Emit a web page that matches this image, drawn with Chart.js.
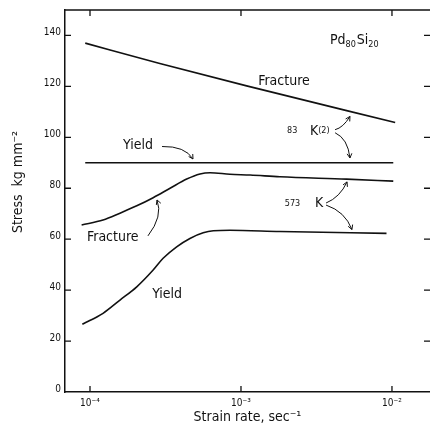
<!DOCTYPE html>
<html><head><meta charset="utf-8">
<script src="https://cdn.jsdelivr.net/npm/chart.js@4"></script>
<style>html,body{margin:0;padding:0;background:#fff}#wrap{width:430px;height:428px;position:relative}</style>
</head><body><div id="wrap"><canvas id="c"></canvas></div>
<script>
// ---------- data ----------
const xTicks = [1e-4, 1e-3, 1e-2];
const xTickLabels = ['10\u207B\u2074', '10\u207B\u00B3', '10\u207B\u00B2'];
const yTicks = [0, 20, 40, 60, 80, 100, 120, 140];
const yTickLabels = ['0', '20', '40', '60', '80', '100', '120', '140'];

const fracture83Rate   = [9.3e-5, 2.9e-4, 1.09e-3, 1.05e-2];
const fracture83Stress = [137, 129, 120.2, 105.8];

const yield83Rate   = [9.3e-5, 1.02e-2];
const yield83Stress = [90, 90];

const fracture573Rate   = [8.8e-5, 1.22e-4, 1.58e-4, 2.04e-4, 2.62e-4, 3.39e-4, 4.37e-4, 5.35e-4, 6.24e-4, 8.45e-4, 1.15e-3, 1.81e-3, 5.0e-3, 1.02e-2];
const fracture573Stress = [65.6, 67.5, 70.2, 73.1, 76.3, 80.0, 83.6, 85.6, 86.1, 85.5, 85.2, 84.5, 83.6, 82.8];

const yield573Rate   = [8.9e-5, 1.22e-4, 1.58e-4, 2.04e-4, 2.62e-4, 3.05e-4, 3.75e-4, 4.59e-4, 5.62e-4, 6.56e-4, 8.45e-4, 1.81e-3, 9.2e-3];
const yield573Stress = [26.6, 30.9, 36.1, 41.3, 47.9, 52.5, 57.0, 60.3, 62.5, 63.3, 63.5, 63.0, 62.3];

// ---------- annotations (data coordinates) ----------
const FONT = '"DejaVu Sans Condensed","DejaVu Sans",sans-serif';
const labels = [
  {x: 3.88e-3, y: 138.2, parts: [{t:'Pd', s:14}, {t:'80', s:9, dy:5}, {t:'Si', s:14}, {t:'20', s:9, dy:5}]},
  {x: 1.30e-3, y: 122.1, parts: [{t:'Fracture', s:14}]},
  {x: 2.02e-3, y: 102.5, parts: [{t:'83', s:9}]},
  {x: 2.86e-3, y: 102.5, parts: [{t:'K', s:14}, {t:'(2)', s:9}]},
  {x: 1.656e-4, y: 97.0, parts: [{t:'Yield', s:14}]},
  {x: 1.95e-3, y: 73.9, parts: [{t:'573', s:9}]},
  {x: 3.09e-3, y: 73.9, parts: [{t:'K', s:14}]},
  {x: 9.55e-5, y: 60.9, parts: [{t:'Fracture', s:14}]},
  {x: 2.58e-4, y: 38.5, parts: [{t:'Yield', s:14}]}
];
const arrows = [
  {from:[4.20e-3, 103.0], ctrl:[4.75e-3, 103.8], to:[5.27e-3, 108.2]},
  {from:[4.20e-3, 101.8], ctrl:[5.10e-3, 99.5], to:[5.27e-3, 91.9]},
  {from:[3.00e-4, 96.4], ctrl:[4.26e-4, 96.6], to:[4.81e-4, 91.5]},
  {from:[3.66e-3, 74.2], ctrl:[4.53e-3, 76.5], to:[5.04e-3, 82.5]},
  {from:[3.66e-3, 73.4], ctrl:[4.89e-3, 70.9], to:[5.43e-3, 63.8]},
  {from:[2.42e-4, 61.3], ctrl:[3.05e-4, 69.0], to:[2.78e-4, 75.4]}
];

function pts(xs, ys){ return xs.map((x,i)=>({x:x, y:ys[i]})); }
function ds(xs, ys){
  return {data: pts(xs, ys), borderColor:'#111', borderWidth:1.6, pointRadius:0,
          fill:false, cubicInterpolationMode:'monotone'};
}

const decor = {
  id:'decor',
  afterDraw(chart){
    const ctx = chart.ctx, xs = chart.scales.x, ys = chart.scales.y, a = chart.chartArea;
    ctx.save();
    ctx.strokeStyle = '#111'; ctx.lineWidth = 1.5;
    // top border
    ctx.beginPath(); ctx.moveTo(a.left, a.top); ctx.lineTo(a.right, a.top); ctx.stroke();
    ctx.lineWidth = 1.3;
    ctx.beginPath();
    xTicks.forEach(v=>{
      const px = xs.getPixelForValue(v);
      ctx.moveTo(px, a.bottom); ctx.lineTo(px, a.bottom-6);
      ctx.moveTo(px, a.top); ctx.lineTo(px, a.top+6);
    });
    yTicks.forEach(v=>{
      const py = ys.getPixelForValue(v);
      if (v>0){
        ctx.moveTo(a.left, py); ctx.lineTo(a.left+6, py);
        ctx.moveTo(a.right, py); ctx.lineTo(a.right-6, py);
      }
    });
    ctx.stroke();
    // arrows
    ctx.lineWidth = 1;
    arrows.forEach(ar=>{
      const f=[xs.getPixelForValue(ar.from[0]), ys.getPixelForValue(ar.from[1])];
      const c=[xs.getPixelForValue(ar.ctrl[0]), ys.getPixelForValue(ar.ctrl[1])];
      const t=[xs.getPixelForValue(ar.to[0]), ys.getPixelForValue(ar.to[1])];
      ctx.beginPath(); ctx.moveTo(f[0],f[1]); ctx.quadraticCurveTo(c[0],c[1],t[0],t[1]); ctx.stroke();
      const ang = Math.atan2(t[1]-c[1], t[0]-c[0]);
      ctx.beginPath();
      ctx.moveTo(t[0]-5*Math.cos(ang-0.5), t[1]-5*Math.sin(ang-0.5));
      ctx.lineTo(t[0], t[1]);
      ctx.lineTo(t[0]-5*Math.cos(ang+0.5), t[1]-5*Math.sin(ang+0.5));
      ctx.stroke();
    });
    // labels
    ctx.fillStyle = '#111'; ctx.textBaseline = 'middle'; ctx.textAlign = 'left';
    labels.forEach(l=>{
      let px = xs.getPixelForValue(l.x); const py = ys.getPixelForValue(l.y);
      l.parts.forEach(p=>{
        ctx.font = p.s + 'px ' + FONT;
        ctx.fillText(p.t, px, py + (p.dy||0));
        px += ctx.measureText(p.t).width + (p.s<10?1:0);
      });
    });
    // y axis title
    ctx.translate(18, 182); ctx.rotate(-Math.PI/2);
    ctx.textAlign = 'center';
    ctx.font = '14px ' + FONT;
    ctx.fillText('Stress  kg mm\u207B\u00B2', 0, 0);
    ctx.restore();
  }
};

new Chart(document.getElementById('c'), {
  type:'line',
  data:{datasets:[
    ds(fracture83Rate, fracture83Stress),
    ds(yield83Rate, yield83Stress),
    ds(fracture573Rate, fracture573Stress),
    ds(yield573Rate, yield573Stress)
  ]},
  options:{
    responsive:true, maintainAspectRatio:false, animation:false,
    layout:{padding:{top:10, right:0, left:0, bottom:0}},
    plugins:{legend:{display:false}, tooltip:{enabled:false}},
    scales:{
      x:{type:'logarithmic', min:6.83e-5, max:1.786e-2,
        afterBuildTicks(s){ s.ticks = xTicks.map(v=>({value:v})); },
        afterFit(s){ s.height = 36; },
        grid:{drawOnChartArea:false, drawTicks:false},
        border:{display:true, color:'#111', width:1.5},
        ticks:{autoSkip:false, maxRotation:0, padding:5, color:'#111',
          font:{size:10, family:FONT},
          callback:(v,i)=>xTickLabels[i]},
        title:{display:true, text:'Strain rate, sec\u207B\u00B9', color:'#111',
          font:{size:14, family:FONT}, padding:{top:0, bottom:2}}
      },
      y:{type:'linear', min:0, max:150,
        afterBuildTicks(s){ s.ticks = yTicks.map(v=>({value:v})); },
        afterFit(s){ s.width = 65; },
        grid:{drawOnChartArea:false, drawTicks:false},
        border:{display:true, color:'#111', width:1.5},
        ticks:{padding:4, labelOffset:-3, color:'#111', font:{size:10, family:FONT},
          callback:(v,i)=>yTickLabels[i]}
      }
    }
  },
  plugins:[decor]
});
</script></body></html>
